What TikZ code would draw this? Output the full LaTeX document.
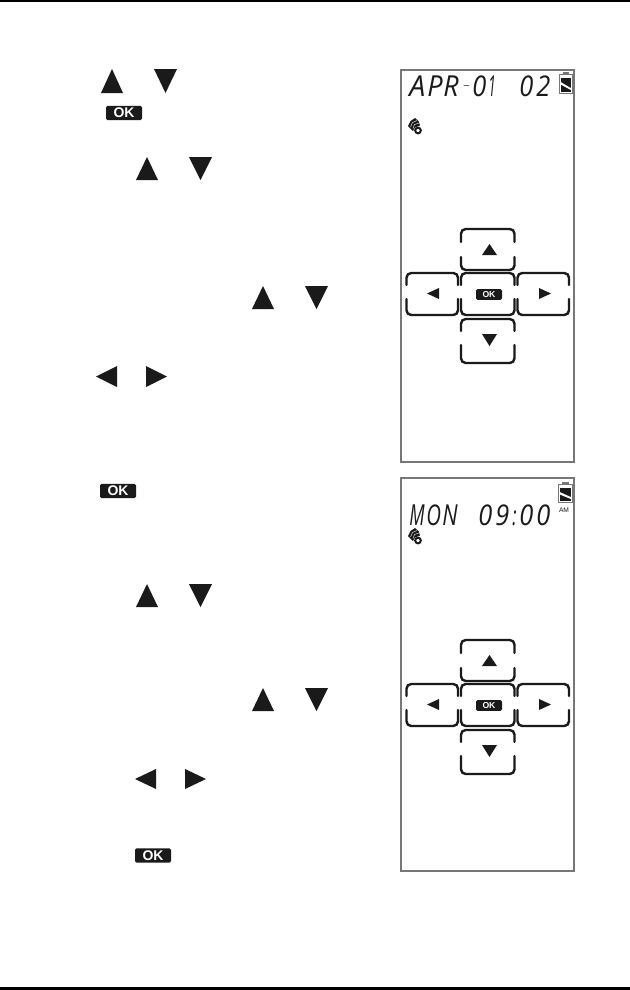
\documentclass[tikz,border=0pt]{standalone}
\usepackage{fontspec}
\usepackage{graphicx}
\setmainfont{Liberation Sans}
\newfontfamily\lcdfont{Open Sans}
\definecolor{ink}{HTML}{1A1A1A}
\definecolor{frameg}{HTML}{777777}
\tikzset{
  x=0.75pt,y=-0.75pt,
  tri/.style={fill=ink,draw=none},
  rule/.style={fill=black,draw=none},
  panel/.style={draw=frameg,line width=0.85pt},
  btn/.style={draw=ink,line width=1.8pt,rounded corners=3.5pt,line cap=round},
  okbig/.style={fill=ink,text=white,rounded corners=1.2pt,inner sep=0pt,minimum width=27pt,minimum height=10.8pt,font=\fontsize{10.5}{10.5}\selectfont\bfseries,text height=7.4pt,text depth=0pt},
  oksmall/.style={fill=ink,text=white,rounded corners=1.2pt,inner sep=0pt,minimum width=19.5pt,minimum height=8.2pt,font=\fontsize{6.5}{6.5}\selectfont\bfseries,text height=4.8pt,text depth=0pt},
  lcd/.style={inner sep=0pt,text=ink}
}
% triangles: x1,x2,y1,y2
\newcommand{\triup}[4]{\fill[tri] ({(#1+#2)/2},#3) -- (#2,#4) -- (#1,#4) -- cycle;}
\newcommand{\tridn}[4]{\fill[tri] (#1,#3) -- (#2,#3) -- ({(#1+#2)/2},#4) -- cycle;}
\newcommand{\trilf}[4]{\fill[tri] (#2,#3) -- (#2,#4) -- (#1,{(#3+#4)/2}) -- cycle;}
\newcommand{\trirt}[4]{\fill[tri] (#1,#3) -- (#1,#4) -- (#2,{(#3+#4)/2}) -- cycle;}
% button with gaps in its sides: x1,x2,y1,y2,g1,g2
\newcommand{\padbtn}[6]{%
  \draw[btn] (#1,#5) -- (#1,#3) -- (#2,#3) -- (#2,#5);
  \draw[btn] (#1,#6) -- (#1,#4) -- (#2,#4) -- (#2,#6);}
% key pad with vertical offset
\newcommand{\keypad}[2]{%
  \padbtn{461}{514.5}{#1+229}{#1+270}{#1+242}{#1+257}
  \padbtn{461}{514.5}{#1+273}{#1+315}{#1+285}{#1+299}
  \padbtn{406.5}{458}{#1+273}{#1+315}{#1+285}{#1+299}
  \padbtn{517.5}{569}{#1+273}{#1+315}{#1+285}{#1+299}
  \padbtn{461}{514.5}{#1+319}{#1+363}{#1+331}{#1+345}
  \triup{482}{497}{#1+244}{#1+255}
  \tridn{482}{497}{#1+334}{#1+346}
  \trilf{427}{439}{#1+288}{#1+299}
  \trirt{539}{551}{#1+288}{#1+299}
  \node[oksmall] (#2) at (489,#1+294.5) {OK};}
% battery: x1,x2,y1,y2
\newcommand{\batt}[4]{%
  \draw[draw=frameg,line width=0.7pt] (#1,#3+2.5) rectangle (#2,#4);
  \fill[frameg] ({#1+3},#3) rectangle ({#2-3},#3+2.5);
  \fill[ink] (#1+1.2,#3+5.5) rectangle (#2-1.2,#4-1.2);
  \fill[white] (#1+1.2,#3+10) -- (#2-1.2,#4-5) -- (#2-1.2,#4-3) -- (#1+1.2,#3+12.5) -- cycle;}
% signal icon: top-left x,y
\newcommand{\sigicon}[2]{%
  \draw[ink,line width=1.5pt] (#1+10,#2+12.5) circle (2.1pt);
  \fill[ink] (#1,#2+8) -- (#1+2.5,#2+3) -- (#1+7,#2) -- (#1+10.5,#2+3) -- (#1+12,#2+7.5) -- (#1+7,#2+9.5) -- (#1+5,#2+13) -- cycle;
  \draw[white,line width=0.3pt] (#1+2.5,#2+9) -- (#1+4.5,#2+4.5) -- (#1+9,#2+2.5);
  \draw[white,line width=0.3pt] (#1+5,#2+10.5) -- (#1+6.5,#2+6.5) -- (#1+11,#2+5);}
\begin{document}
\begin{tikzpicture}
\useasboundingbox (0,0) rectangle (630,990);
\fill[white] (0,0) rectangle (630,990);
\fill[rule] (0,0) rectangle (630,2);
\fill[rule] (0,987) rectangle (630,990);

% left column icons
\triup{101}{123}{69}{93}
\tridn{154}{177}{69}{93}
\node[okbig] (ok1) at (124,113) {OK};
\triup{136}{158}{157}{180}
\tridn{189}{212}{157}{180}
\triup{252}{274}{286}{309}
\tridn{305}{328}{286}{309}
\trilf{96}{117}{366}{387}
\trirt{146}{167}{366}{387}
\node[okbig] (ok2) at (118,491) {OK};
\triup{136}{158}{584}{607}
\tridn{189}{212}{584}{607}
\triup{252}{274}{688}{711}
\tridn{305}{328}{688}{711}
\trilf{135}{156}{769}{789}
\trirt{185}{206}{769}{789}
\node[okbig] (ok3) at (153,855.5) {OK};

% panels
\draw[panel] (401,70) rectangle (574,462);
\draw[panel] (401,478) rectangle (574,871);

% first display
\node[lcd,anchor=south west] (d1a) at (409,97) {\resizebox{12pt}{15.5pt}{\lcdfont\itshape A}};
\node[lcd,anchor=south west] (d1b) at (427,97) {\resizebox{11.5pt}{15.5pt}{\lcdfont\itshape P}};
\node[lcd,anchor=south west] (d1c) at (443,97) {\resizebox{11.5pt}{15.5pt}{\lcdfont\itshape R}};
\node[lcd,anchor=center] (d1d) at (466.5,87) {\resizebox{5.5pt}{2pt}{\lcdfont -}};
\node[lcd,anchor=south west] (d1e) at (472,97) {\resizebox{10.5pt}{15.5pt}{\lcdfont\itshape 0}};
\node[lcd,anchor=south west] (d1f) at (488,97) {\resizebox{5.5pt}{15.5pt}{\lcdfont\itshape 1}};
\node[lcd,anchor=south west] (d1g) at (519,97) {\resizebox{10.5pt}{15.5pt}{\lcdfont\itshape 0}};
\node[lcd,anchor=south west] (d1h) at (536,97) {\resizebox{10.5pt}{15.5pt}{\lcdfont\itshape 2}};
\batt{559.5}{572}{72}{93}
\sigicon{408}{118}
\keypad{0}{okp1}

% second display
\node[lcd,anchor=south west] (d2a) at (409,526) {\resizebox{11.5pt}{15.5pt}{\lcdfont\itshape M}};
\node[lcd,anchor=south west] (d2b) at (426,526) {\resizebox{11pt}{15.5pt}{\lcdfont\itshape O}};
\node[lcd,anchor=south west] (d2c) at (442,526) {\resizebox{11.5pt}{15.5pt}{\lcdfont\itshape N}};
\node[lcd,anchor=south west] (d2d) at (478,526) {\resizebox{10.5pt}{15.5pt}{\lcdfont\itshape 0}};
\node[lcd,anchor=south west] (d2e) at (495,526) {\resizebox{10.5pt}{15.5pt}{\lcdfont\itshape 9}};
\node[lcd,anchor=south west] (d2f) at (512,526) {\resizebox{3.2pt}{11pt}{\lcdfont\itshape :}};
\node[lcd,anchor=south west] (d2g) at (519,526) {\resizebox{10.5pt}{15.5pt}{\lcdfont\itshape 0}};
\node[lcd,anchor=south west] (d2h) at (536,526) {\resizebox{10.5pt}{15.5pt}{\lcdfont\itshape 0}};
\node[inner sep=0pt,text=ink,font=\fontsize{5}{5}\selectfont] (am) at (564,510) {AM};
\batt{558.5}{572}{482}{502}
\sigicon{408}{528}
\keypad{411}{okp2}
\end{tikzpicture}
\end{document}
